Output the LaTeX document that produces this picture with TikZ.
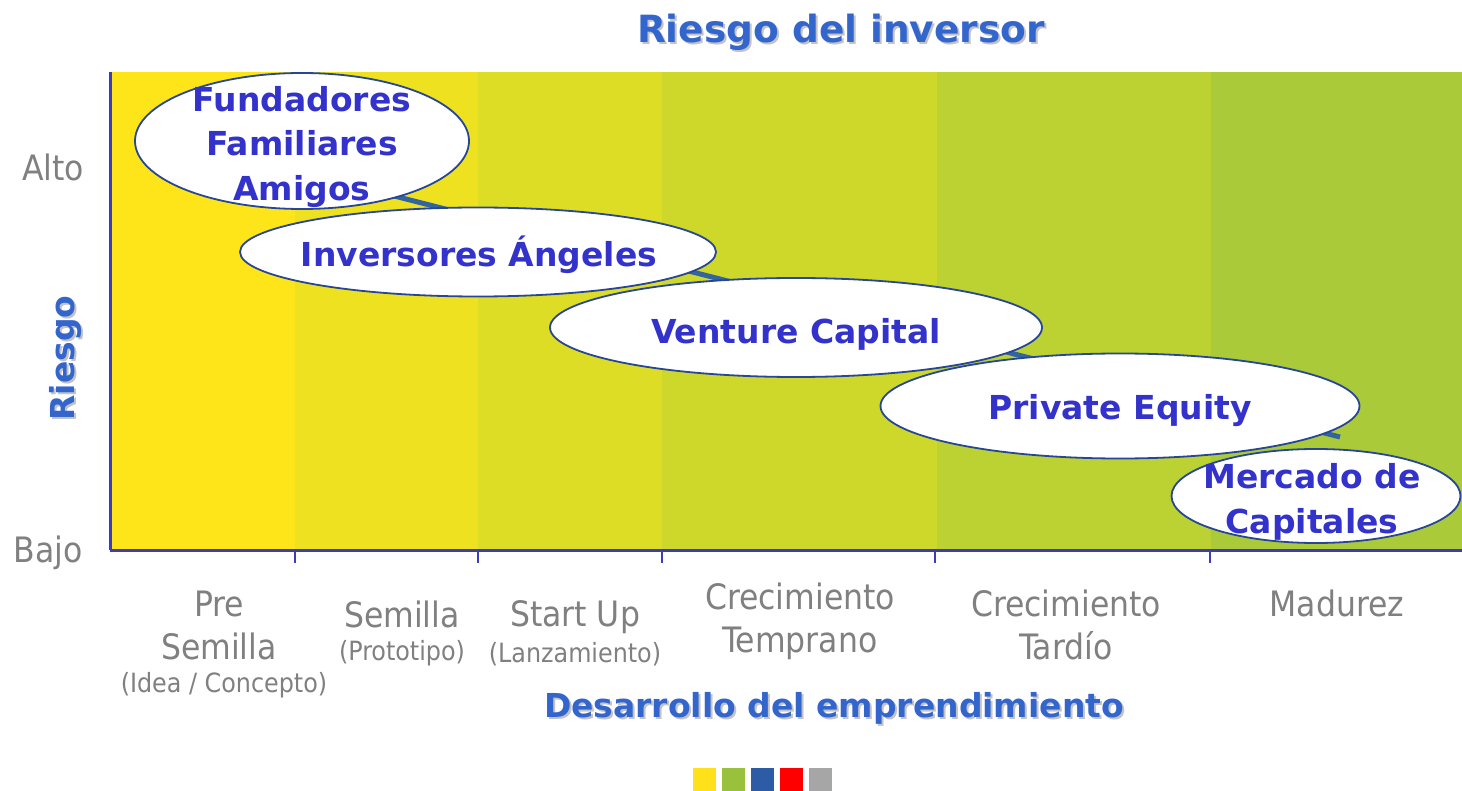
\documentclass[tikz,border=0pt]{standalone}
\usepackage{fontspec}
\setmainfont{DejaVu Sans}
\newfontfamily\lblfont{DejaVu Sans Condensed}
\newfontfamily\hdfont{DejaVu Sans}
\usetikzlibrary{shapes.geometric}
\definecolor{bandA}{RGB}{253,229,26}
\definecolor{bandB}{RGB}{238,225,32}
\definecolor{bandC}{RGB}{222,221,37}
\definecolor{bandD}{RGB}{205,216,43}
\definecolor{bandE}{RGB}{187,210,50}
\definecolor{bandF}{RGB}{170,202,58}
\definecolor{axisblue}{RGB}{60,60,190}
\definecolor{ellblue}{RGB}{40,70,150}
\definecolor{etext}{RGB}{51,51,204}
\definecolor{hblue}{RGB}{51,102,204}
\definecolor{shadowgray}{RGB}{195,195,195}
\definecolor{labgray}{RGB}{128,128,128}
\definecolor{riskblue}{RGB}{52,100,160}
\definecolor{sqyellow}{RGB}{255,224,26}
\definecolor{sqgreen}{RGB}{153,193,60}
\definecolor{sqblue}{RGB}{45,91,166}
\definecolor{sqred}{RGB}{255,0,0}
\definecolor{sqgray}{RGB}{166,166,166}
\tikzset{
  ellbox/.style={ellipse, draw=ellblue, line width=1.8pt, fill=white, inner sep=0pt},
  etxt/.style={text=etext, inner sep=0pt, align=center, font=\hdfont\bfseries\fontsize{33}{44.5}\selectfont},
  headtxt/.style={text=hblue, inner sep=0pt, font=\hdfont\bfseries\fontsize{#1}{#1}\selectfont},
  headshadow/.style={text=shadowgray, inner sep=0pt, font=\hdfont\bfseries\fontsize{#1}{#1}\selectfont},
  biglab/.style={text=labgray, inner sep=0pt, align=center, font=\lblfont\fontsize{35}{43}\selectfont},
  smalllab/.style={text=labgray, inner sep=0pt, align=center, font=\lblfont\fontsize{26.5}{32}\selectfont},
  axisline/.style={draw=axisblue, line width=3pt},
  tickline/.style={draw=axisblue, line width=2pt},
  riskline/.style={draw=riskblue, line width=5pt},
  colsq/.style={inner sep=0pt, minimum width=23pt, minimum height=23pt, anchor=north west}
}
\begin{document}
\begin{tikzpicture}[x=1pt,y=-1pt]
\useasboundingbox (0,0) rectangle (1462,791);
% bands
\fill[bandA] (110,72) rectangle (295,549);
\fill[bandB] (295,72) rectangle (478,549);
\fill[bandC] (478,72) rectangle (662,549);
\fill[bandD] (662,72) rectangle (937,549);
\fill[bandE] (937,72) rectangle (1211,549);
\fill[bandF] (1211,72) rectangle (1462,549);
% axes
\coordinate (ytop) at (110,72);
\coordinate (orig) at (110,550);
\coordinate (xend) at (1462,550);
\draw[axisline] (ytop) -- (orig);
\draw[axisline] (orig) -- (xend);
\foreach \t/\nm in {295/ta,478/tb,662/tc,935/td,1210/te}{
  \coordinate (\nm1) at (\t,550);
  \coordinate (\nm2) at (\t,563);
  \draw[tickline] (\nm1) -- (\nm2);
}
% risk line
\coordinate (rs) at (300,172);
\coordinate (re) at (1340,437);
\draw[riskline] (rs) -- (re);
% ellipses
\node[ellbox, minimum width=334pt, minimum height=136pt] (fund) at (302,141) {};
\node[etxt] (fundT) at (302,147) {Fundadores\\Familiares\\Amigos};
\node[ellbox, minimum width=476pt, minimum height=89pt] (ang) at (478,252) {};
\node[etxt] (angT) at (479,255) {Inversores Ángeles};
\node[ellbox, minimum width=492pt, minimum height=99pt] (vc) at (796,327.5) {};
\node[etxt] (vcT) at (796,334) {Venture Capital};
\node[ellbox, minimum width=479pt, minimum height=105pt] (pe) at (1120,406) {};
\node[etxt] (peT) at (1120,411) {Private Equity};
\node[ellbox, minimum width=289pt, minimum height=94pt] (mc) at (1316,496) {};
\node[etxt] (mcT) at (1312,502) {Mercado de\\Capitales};
% title and axis titles
\node[headshadow=37.5] (titleS) at (843,34) {Riesgo del inversor};
\node[headtxt=37.5] (title) at (841,32) {Riesgo del inversor};
\node[headshadow=33] (xtitS) at (836,710) {Desarrollo del emprendimiento};
\node[headtxt=33] (xtit) at (834,708) {Desarrollo del emprendimiento};
\node[headshadow=33, rotate=90] (ytitS) at (68,360) {Riesgo};
\node[headtxt=33, rotate=90] (ytit) at (66,358) {Riesgo};
% y labels
\node[biglab] (alto) at (53,167) {Alto};
\node[biglab] (bajo) at (48,553) {Bajo};
% x labels
\node[biglab] (preA) at (219,625) {Pre\\Semilla};
\node[smalllab] (preB) at (224,685) {(Idea / Concepto)};
\node[biglab] (semA) at (402,614) {Semilla};
\node[smalllab] (semB) at (402,653) {(Prototipo)};
\node[biglab] (stA) at (575,617) {Start Up};
\node[smalllab] (stB) at (575,654) {(Lanzamiento)};
\node[biglab] (ctemp) at (800,621) {Crecimiento\\Temprano};
\node[biglab] (ctard) at (1066,625) {Crecimiento\\Tardío};
\node[biglab] (mad) at (1337,603) {Madurez};
% colour squares
\node[colsq, fill=sqyellow] (sq1) at (693,768) {};
\node[colsq, fill=sqgreen] (sq2) at (722,768) {};
\node[colsq, fill=sqblue] (sq3) at (751,768) {};
\node[colsq, fill=sqred] (sq4) at (780,768) {};
\node[colsq, fill=sqgray] (sq5) at (809,768) {};
\end{tikzpicture}
\end{document}
